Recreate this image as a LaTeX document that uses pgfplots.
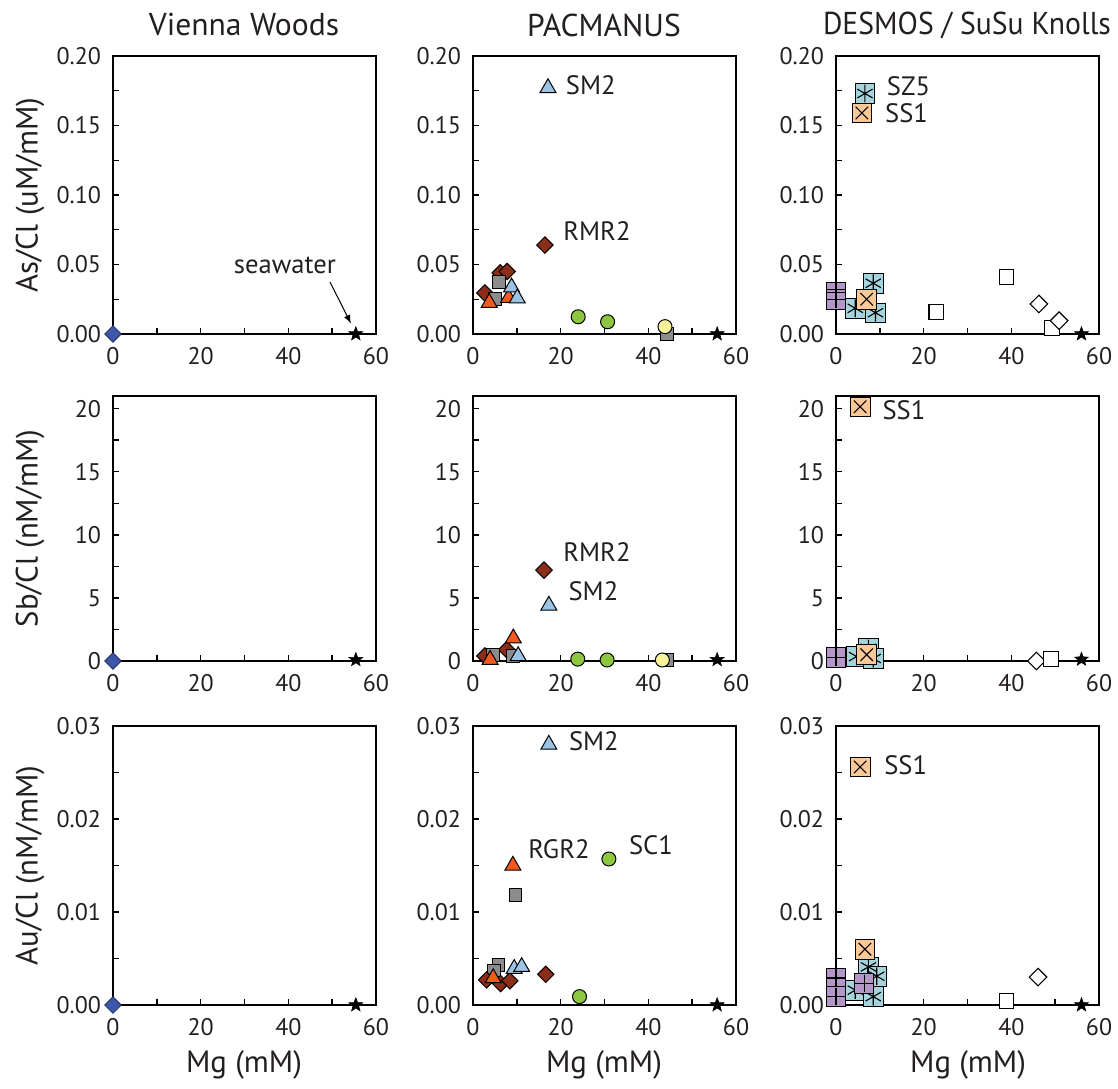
\documentclass[border=0pt]{standalone}
\usepackage{pgfplots}
\pgfplotsset{compat=1.18}
\usepackage{fontspec}
\setmainfont{PT Sans}
\definecolor{rmrc}{RGB}{140,45,25}
\definecolor{orc}{RGB}{240,90,30}
\definecolor{grc}{RGB}{140,140,140}
\definecolor{lbc}{RGB}{155,195,230}
\definecolor{gnc}{RGB}{141,198,63}
\definecolor{ylc}{RGB}{248,243,155}
\definecolor{vwc}{RGB}{63,87,168}
\definecolor{puc}{RGB}{180,150,200}
\definecolor{tlc}{RGB}{165,212,220}
\definecolor{pcc}{RGB}{252,200,150}
\definecolor{txc}{RGB}{35,31,32}
\pgfdeclareplotmark{fstar}{%
 \pgfpathmoveto{\pgfpointpolar{90}{\pgfplotmarksize}}%
 \pgfpathlineto{\pgfpointpolar{126}{0.42*\pgfplotmarksize}}%
 \pgfpathlineto{\pgfpointpolar{162}{\pgfplotmarksize}}%
 \pgfpathlineto{\pgfpointpolar{198}{0.42*\pgfplotmarksize}}%
 \pgfpathlineto{\pgfpointpolar{234}{\pgfplotmarksize}}%
 \pgfpathlineto{\pgfpointpolar{270}{0.42*\pgfplotmarksize}}%
 \pgfpathlineto{\pgfpointpolar{306}{\pgfplotmarksize}}%
 \pgfpathlineto{\pgfpointpolar{342}{0.42*\pgfplotmarksize}}%
 \pgfpathlineto{\pgfpointpolar{18}{\pgfplotmarksize}}%
 \pgfpathlineto{\pgfpointpolar{54}{0.42*\pgfplotmarksize}}%
 \pgfpathclose\pgfusepathqfillstroke}
\pgfplotsset{
 panel/.style={scale only axis, width=131.5pt, clip=false, anchor=south west,
  xmin=0, xmax=60, xtick={0,20,40,60}, minor xtick={10,30,50},
  tick align=inside, xtick pos=bottom, ytick pos=left,
  major tick length=3pt, minor tick length=3pt, scaled ticks=false,
  axis line style={line width=0.8pt, black},
  every tick/.style={line width=0.7pt, black},
  every minor tick/.style={line width=0.7pt, black},
  ticklabel style={font=\fontsize{12}{14}\selectfont, text=txc},
  xticklabel style={yshift=-3pt},
  yticklabel style={xshift=-2.5pt},
  /pgf/number format/assume math mode=true},
 rowA/.style={height=139pt, ymin=0, ymax=0.2, ytick={0,0.05,0.1,0.15,0.2},
  minor ytick={0.025,0.075,0.125,0.175},
  yticklabel style={/pgf/number format/fixed, /pgf/number format/fixed zerofill, /pgf/number format/precision=2}},
 rowB/.style={height=132.5pt, ymin=0, ymax=21, ytick={0,5,10,15,20},
  minor ytick={2.5,7.5,12.5,17.5}},
 rowC/.style={height=139.5pt, ymin=0, ymax=0.03, ytick={0,0.01,0.02,0.03},
  minor ytick={0.005,0.015,0.025},
  yticklabel style={/pgf/number format/fixed, /pgf/number format/fixed zerofill, /pgf/number format/precision=2}},
 rmr/.style={only marks, mark=square*, mark size=2.9pt, mark options={rotate=45, fill=rmrc, draw=black, line width=0.5pt}},
 vw/.style={only marks, mark=square*, mark size=2.9pt, mark options={rotate=45, fill=vwc, draw=vwc!60!black, line width=0.5pt}},
 gry/.style={only marks, mark=square*, mark size=3.2pt, mark options={fill=grc, draw=black, line width=0.5pt}},
 ort/.style={only marks, mark=triangle*, mark size=4.6pt, mark options={fill=orc, draw=black, line width=0.5pt}},
 lbt/.style={only marks, mark=triangle*, mark size=4.6pt, mark options={fill=lbc, draw=black, line width=0.5pt}},
 gnc/.style={only marks, mark=*, mark size=3.5pt, mark options={fill=gnc, draw=black, line width=0.5pt}},
 ylc/.style={only marks, mark=*, mark size=3.5pt, mark options={fill=ylc, draw=black, line width=0.5pt}},
 osq/.style={only marks, mark=square*, mark size=3.7pt, mark options={fill=white, draw=black, line width=0.55pt}},
 odi/.style={only marks, mark=square*, mark size=3.1pt, mark options={rotate=45, fill=white, draw=black, line width=0.55pt}},
 sw/.style={only marks, mark=fstar, mark size=3.6pt, mark options={fill=black, draw=black, line width=0.3pt}},
}
\newcommand{\dpair}[3]{%
 \addplot[only marks, mark=square*, mark size=4.9pt, mark options={draw=none, fill=#1}] coordinates {#3};
 \addplot[only marks, mark=#2, mark size=4.4pt, mark options={draw=black, line width=0.55pt}] coordinates {#3};}
\newcommand{\dlab}{\fontsize{13.3}{15}\selectfont\color{txc}}
\begin{document}
\begin{tikzpicture}
\path[use as bounding box] (0,0) rectangle (559pt,544pt);
% ---------------- Row 1: As/Cl
\begin{axis}[panel, rowA, at={(56.5pt,377pt)}]
 \addplot[vw] coordinates {(0,0)};
 \addplot[sw] coordinates {(55.4,0)};
 \node[font=\dlab] at (axis cs:39.2,0.049) {seawater};
 \draw[-latex, line width=0.5pt] (axis cs:49.5,0.0374) -- (axis cs:54.3,0.0075);
\end{axis}
\begin{axis}[panel, rowA, at={(236.5pt,377pt)}]
 \addplot[rmr] coordinates {(2.7,0.0295) (6.2,0.044) (7.8,0.045) (16.4,0.064)};
 \addplot[gry] coordinates {(6.0,0.0376) (5.0,0.025) (44.3,0)};
 \addplot[ort] coordinates {(3.7,0.0225) (8.1,0.026)};
 \addplot[lbt] coordinates {(8.8,0.0336) (10.1,0.0257) (17.1,0.177)};
 \addplot[gnc] coordinates {(24.0,0.0124) (30.7,0.0088)};
 \addplot[ylc] coordinates {(43.8,0.0053)};
 \addplot[sw] coordinates {(55.7,0)};
 \node[font=\dlab, anchor=west] at (axis cs:19.6,0.179) {SM2};
 \node[font=\dlab, anchor=west] at (axis cs:19.0,0.074) {RMR2};
\end{axis}
\begin{axis}[panel, rowA, at={(418pt,377pt)}]
 \addplot[osq] coordinates {(22.9,0.016) (38.9,0.0408) (49.2,0.0041)};
 \addplot[odi] coordinates {(46.3,0.0216) (50.9,0.0096)};
 \dpair{tlc}{asterisk}{(8.5,0.0365) (4.4,0.0185) (9.0,0.0153) (6.6,0.173)}
 \dpair{puc}{+}{(0,0.030) (0,0.025)}
 \dpair{pcc}{x}{(7.0,0.025) (5.9,0.159)}
 \addplot[sw] coordinates {(56,0)};
 \node[font=\dlab, anchor=west] at (axis cs:10.0,0.178) {SZ5};
 \node[font=\dlab, anchor=west] at (axis cs:9.6,0.1588) {SS1};
\end{axis}
% ---------------- Row 2: Sb/Cl
\begin{axis}[panel, rowB, at={(56.5pt,213.5pt)}]
 \addplot[vw] coordinates {(0,0)};
 \addplot[sw] coordinates {(55.4,0.1)};
\end{axis}
\begin{axis}[panel, rowB, at={(236.5pt,213.5pt)}]
 \addplot[rmr] coordinates {(2.7,0.4) (7.7,0.9) (16.2,7.2)};
 \addplot[gry] coordinates {(4.5,0.5) (9.1,0.4) (44.2,0.1)};
 \addplot[ort] coordinates {(3.9,0.1) (9.2,1.8)};
 \addplot[lbt] coordinates {(10.3,0.4) (17.3,4.4)};
 \addplot[gnc] coordinates {(23.9,0.15) (30.6,0.08)};
 \addplot[ylc] coordinates {(43.2,0.08)};
 \addplot[sw] coordinates {(55.7,0.1)};
 \node[font=\dlab, anchor=west] at (axis cs:19.0,8.6) {RMR2};
 \node[font=\dlab, anchor=west] at (axis cs:20.2,5.5) {SM2};
\end{axis}
\begin{axis}[panel, rowB, at={(418pt,213.5pt)}]
 \addplot[odi] coordinates {(45.7,0)};
 \addplot[osq] coordinates {(49.0,0.15)};
 \dpair{tlc}{asterisk}{(4.7,0.35) (7.4,1.0) (8.5,0.2)}
 \dpair{puc}{+}{(0,0.3)}
 \dpair{pcc}{x}{(7.0,0.5) (5.5,20.15)}
 \addplot[sw] coordinates {(56,0.13)};
 \node[font=\dlab, anchor=west] at (axis cs:9.0,19.9) {SS1};
\end{axis}
% ---------------- Row 3: Au/Cl
\begin{axis}[panel, rowC, at={(56.5pt,41.5pt)}]
 \addplot[vw] coordinates {(0,0)};
 \addplot[sw] coordinates {(55.4,0)};
\end{axis}
\begin{axis}[panel, rowC, at={(236.5pt,41.5pt)}]
 \addplot[gry] coordinates {(5.8,0.0043) (4.8,0.0037) (9.7,0.0118)};
 \addplot[rmr] coordinates {(3.1,0.0027) (6.3,0.0023) (8.4,0.0026) (16.6,0.0033)};
 \addplot[ort] coordinates {(4.6,0.0029) (9.1,0.0150)};
 \addplot[lbt] coordinates {(9.4,0.0039) (11.1,0.0041) (17.3,0.028)};
 \addplot[gnc] coordinates {(24.3,0.0009) (31.0,0.0157)};
 \addplot[sw] coordinates {(55.7,0)};
 \node[font=\dlab, anchor=west] at (axis cs:11.0,0.0168) {RGR2};
 \node[font=\dlab, anchor=west] at (axis cs:34.0,0.0172) {SC1};
 \node[font=\dlab, anchor=west] at (axis cs:20.3,0.0284) {SM2};
\end{axis}
\begin{axis}[panel, rowC, at={(418pt,41.5pt)}]
 \addplot[odi] coordinates {(46.1,0.003)};
 \addplot[osq] coordinates {(38.9,0.0004)};
 \dpair{tlc}{asterisk}{(7.4,0.0041) (9.3,0.0031) (4.4,0.0016) (8.5,0.0009)}
 \dpair{puc}{+}{(0,0.0029) (0,0.0009) (6.4,0.0023)}
 \dpair{pcc}{x}{(6.6,0.0060) (5.5,0.0256)}
 \addplot[sw] coordinates {(56,0)};
 \node[font=\dlab, anchor=west] at (axis cs:9.4,0.0258) {SS1};
\end{axis}
% ---------------- titles and labels
\begin{scope}[every node/.style={font=\fontsize{15.8}{18}\selectfont, text=txc}]
 \node at (122pt,531.5pt) {Vienna Woods};
 \node at (302pt,531.5pt) {PACMANUS};
 \node[xscale=0.94] at (483.5pt,531.5pt) {DESMOS / SuSu Knolls};
\end{scope}
\begin{scope}[every node/.style={font=\fontsize{15.4}{18}\selectfont, text=txc}]
 \node[rotate=90] at (15pt,446.5pt) {As/Cl (uM/mM)};
 \node[rotate=90] at (15pt,279.75pt) {Sb/Cl (nM/mM)};
 \node[rotate=90] at (15pt,111.25pt) {Au/Cl (nM/mM)};
 \node at (122pt,11.5pt) {Mg (mM)};
 \node at (302pt,11.5pt) {Mg (mM)};
 \node at (484pt,11.5pt) {Mg (mM)};
\end{scope}
\end{tikzpicture}
\end{document}
